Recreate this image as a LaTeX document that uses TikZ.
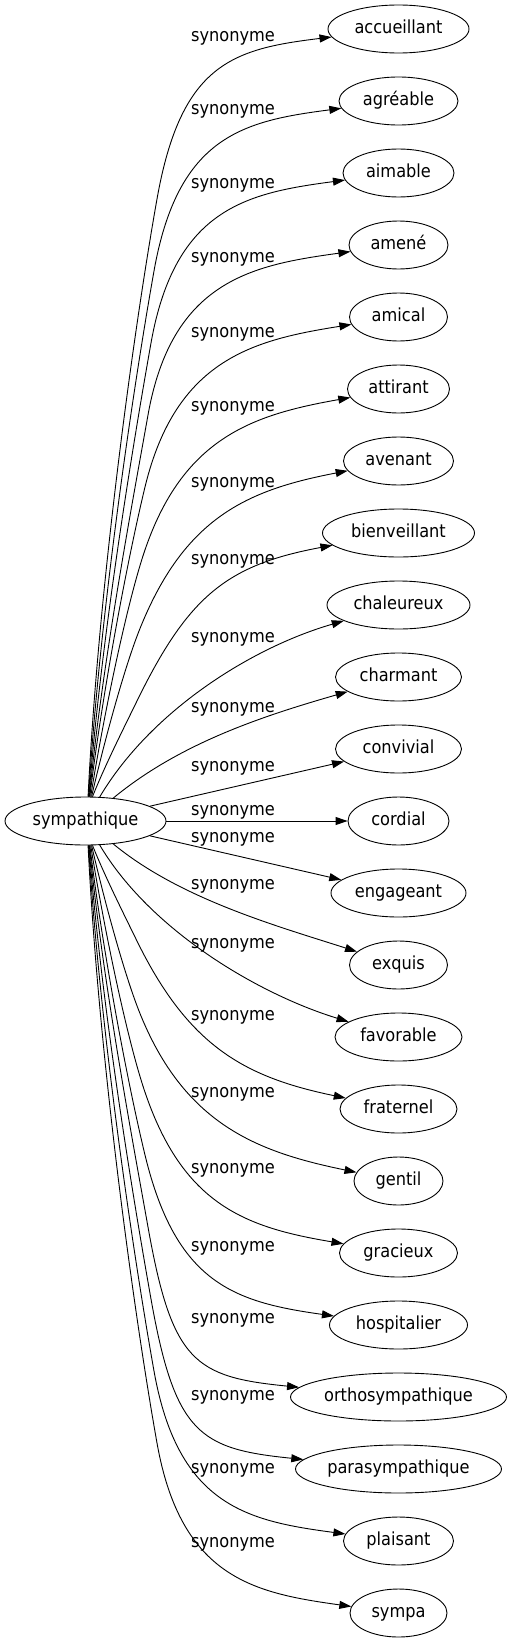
\documentclass[tikz,border=0pt]{standalone}
\usepackage{fontspec}
\setmainfont{DejaVu Sans Condensed}
\usetikzlibrary{arrows.meta}
\usetikzlibrary{shapes.geometric}

\begin{document}
\begin{tikzpicture}[
        x=1pt, y=-1pt,
        font=\fontsize{18pt}{20pt}\selectfont,
        word/.style={draw, ellipse, line width=0.9pt, minimum height=48pt, inner sep=0pt, text height=13.5pt, text depth=3.6pt},
        syn/.style={line width=0.9pt, -{Triangle[length=12pt, width=8pt]}},
        tag/.style={anchor=base, inner sep=0pt}
    ]
        \useasboundingbox (0,0) rectangle (512,1643);

        \node[word, minimum width=161pt] (sym) at (85.5,821) {sympathique};

        \foreach \n/\txt/\w [count=\i from 0] in {acc/accueillant/141, agr/agréable/119, aim/aimable/111,
                ame/amené/99, ami/amical/98, att/attirant/102, ave/avenant/110, bie/bienveillant/152,
                cha/chaleureux/143, chm/charmant/126, con/convivial/126, cor/cordial/101,
                eng/engageant/135, exq/exquis/98, fav/favorable/127, fra/fraternel/117,
                gen/gentil/89, gra/gracieux/118, hos/hospitalier/138, ort/orthosympathique/216,
                par/parasympathique/206, pla/plaisant/110, sya/sympa/97}
            \node[word, minimum width=\w pt] (\n) at (398.5, {29+72*\i}) {\txt};

        % upper fan
        \foreach \n/\k/\w/\a in {acc/11/141/84, agr/10/119/83, aim/9/111/82, ame/8/99/81,
                ami/7/98/80, att/6/102/78, ave/5/110/76, bie/4/152/74} {
            \pgfmathsetmacro{\by}{821-72*\k+170}
            \pgfmathsetmacro{\bx}{136+3*(\k-4)}
            \pgfmathsetmacro{\d}{797-\by}
            \pgfmathsetmacro{\m}{max(0,8-\k)}
            \pgfmathsetmacro{\f}{0.22*\d/(135-7*\m)}
            \pgfmathsetmacro{\s}{0.35*(\bx-99+\k)*(1.2-0.07*\k)}
            \draw[syn] (sym.\a) .. controls +(\s,{-0.35*\d}) and +({-(24+7*\m)*\f},{(135-7*\m)*\f}) .. (\bx,\by)
                .. controls +({24+7*\m},{-135+7*\m}) and +({-\w/2-96},{20+3*\m}) .. (\n);
        }

        \draw[syn] (sym) .. controls (150,712) and (250,648) .. (cha);
        \draw[syn] (sym) .. controls (180,743) and (263,716) .. (chm);
        \draw[syn] (sym) -- (con);
        \draw[syn] (sym) -- (cor);
        \draw[syn] (sym) -- (eng);
        \draw[syn] (sym) .. controls (180,899) and (277,926) .. (exq);
        \draw[syn] (sym) .. controls (150,930) and (258,994) .. (fav);

        % lower fan
        \foreach \n/\k/\w/\a in {fra/4/117/74, gen/5/89/76, gra/6/118/78, hos/7/138/80,
                ort/8/216/81, par/9/206/82, pla/10/110/83, sya/11/97/84} {
            \pgfmathsetmacro{\by}{821+72*\k-170}
            \pgfmathsetmacro{\bx}{136+3*(\k-4)}
            \pgfmathsetmacro{\d}{\by-845}
            \pgfmathsetmacro{\m}{max(0,8-\k)}
            \pgfmathsetmacro{\f}{0.22*\d/(135-7*\m)}
            \pgfmathsetmacro{\s}{0.35*(\bx-99+\k)*(1.2-0.07*\k)}
            \draw[syn] (sym.-\a) .. controls +(\s,{0.35*\d}) and +({-(24+7*\m)*\f},{-(135-7*\m)*\f}) .. (\bx,\by)
                .. controls +({24+7*\m},{135-7*\m}) and +({-\w/2-96},{-20-3*\m}) .. (\n);
        }

        \foreach \y [count=\i] in {42,115,188,262,337,411,487,564,642,712,771,815,
                842,889,948,1020,1097,1173,1251,1323,1400,1473,1547}
            \node[tag] (lab\i) at (233,\y) {synonyme};

    \end{tikzpicture}
\end{document}
